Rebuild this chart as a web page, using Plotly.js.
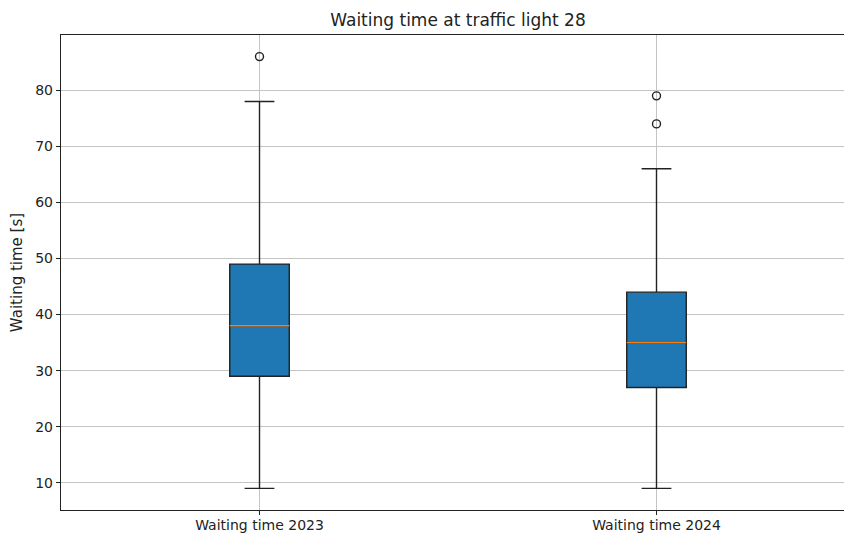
<!DOCTYPE html>
<html>
<head>
<meta charset="utf-8">
<script src="https://cdn.plot.ly/plotly-3.0.1.min.js"></script>
<style>html,body{margin:0;padding:0;overflow:hidden;background:#fff}</style>
</head>
<body>
<div id="chart" style="width:900px;height:533px"></div>
<script>
const categories = ['Waiting time 2023', 'Waiting time 2024'];
const positions = [1, 2];
const lowerWhisker = [9, 9];
const q1 = [29, 27];
const median = [38, 35];
const q3 = [49, 44];
const upperWhisker = [78, 66];
const outliers = [[86], [74, 79]];

const boxWidth = 0.15;
const font = {family: 'DejaVu Sans, sans-serif', size: 14, color: '#222'};

const traces = [];
categories.forEach((c, i) => {
  traces.push({
    type: 'box',
    x: [positions[i]],
    q1: [q1[i]], median: [median[i]], q3: [q3[i]],
    lowerfence: [lowerWhisker[i]], upperfence: [upperWhisker[i]],
    width: boxWidth,
    whiskerwidth: 0.5,
    fillcolor: '#1f77b4',
    line: {color: '#222222', width: 1.4},
    boxpoints: false,
    hoverinfo: 'skip',
    showlegend: false
  });
  traces.push({
    type: 'scatter', mode: 'lines',
    x: [positions[i] - boxWidth / 2, positions[i] + boxWidth / 2],
    y: [median[i], median[i]],
    line: {color: '#ff7f0e', width: 1.4},
    hoverinfo: 'skip', showlegend: false
  });
  traces.push({
    type: 'scatter', mode: 'markers',
    x: outliers[i].map(() => positions[i]),
    y: outliers[i],
    marker: {symbol: 'circle-open', size: 8, color: '#222222', line: {width: 1.4, color: '#222222'}},
    hoverinfo: 'skip', showlegend: false
  });
});

const layout = {
  width: 900, height: 533,
  margin: {l: 61, r: 45, t: 35, b: 23},
  paper_bgcolor: '#fff', plot_bgcolor: '#fff',
  font: font,
  title: {text: 'Waiting time at traffic light 28', font: {family: font.family, size: 17, color: '#222'}, x: 0.5, xref: 'paper', xanchor: 'center', y: 0.962, yanchor: 'middle'},
  xaxis: {
    range: [0.5, 2.5],
    tickmode: 'array', tickvals: positions, ticktext: categories,
    showgrid: true, gridcolor: '#c4c4c4', gridwidth: 1,
    zeroline: false,
    showline: true, linecolor: '#222', linewidth: 1.2, mirror: true,
    ticks: 'outside', ticklen: 4, tickcolor: '#222',
    ticklabelstandoff: -2,
    tickfont: font
  },
  yaxis: {
    range: [5.15, 89.85],
    tickmode: 'array', tickvals: [10, 20, 30, 40, 50, 60, 70, 80],
    showgrid: true, gridcolor: '#c4c4c4', gridwidth: 1,
    zeroline: false,
    showline: true, linecolor: '#222', linewidth: 1.2, mirror: true,
    ticks: 'outside', ticklen: 4, tickcolor: '#222',
    tickfont: font,
    title: {text: 'Waiting time [s]', font: {family: font.family, size: 15, color: '#222'}, standoff: 9}
  }
};

Plotly.newPlot('chart', traces, layout, {displayModeBar: false, staticPlot: true});
</script>
</body>
</html>
